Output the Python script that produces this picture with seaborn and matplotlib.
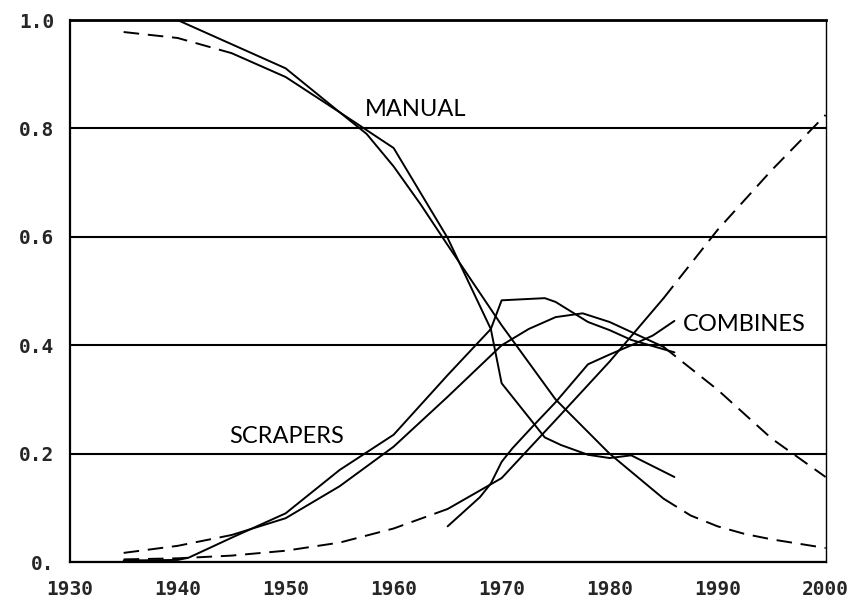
import numpy as np
import pandas as pd
import matplotlib
matplotlib.use("Agg")
import matplotlib.pyplot as plt
import seaborn as sns

# ===================== DATA =====================
# observed market shares (solid, jagged lines)
manual_years = [1935, 1940, 1950, 1955, 1960, 1965, 1969, 1970, 1974, 1975.5, 1978, 1980, 1982, 1986]
manual_share = [1.0, 1.0, 0.911, 0.83, 0.764, 0.598, 0.43, 0.33, 0.23, 0.216, 0.198, 0.192, 0.197, 0.157]

scrapers_years = [1935, 1940, 1941, 1945, 1950, 1955, 1960, 1965, 1969, 1970, 1974, 1975, 1978, 1980, 1982, 1986]
scrapers_share = [0.003, 0.004, 0.008, 0.045, 0.09, 0.17, 0.235, 0.345, 0.43, 0.483, 0.487, 0.48, 0.443, 0.428, 0.41, 0.387]

combines_years = [1965, 1968, 1969, 1970, 1971, 1973, 1975, 1978, 1980, 1982, 1984, 1986]
combines_share = [0.066, 0.12, 0.145, 0.185, 0.21, 0.253, 0.295, 0.365, 0.383, 0.40, 0.418, 0.445]

# fitted substitution curves (dashed outside the fit period)
manual_fit_years = [1935, 1940, 1945, 1950, 1955, 1957.5, 1960, 1962.5, 1965, 1970, 1975, 1980, 1985,
                    1987.5, 1990, 1992.5, 1995, 2000]
manual_fit = [0.978, 0.967, 0.939, 0.895, 0.83, 0.79, 0.73, 0.66, 0.585, 0.437, 0.30, 0.20, 0.117,
              0.086, 0.066, 0.052, 0.042, 0.026]

scrapers_fit_years = [1935, 1940, 1945, 1950, 1955, 1960, 1965, 1970, 1972.5, 1975, 1977.5, 1980, 1982.5, 1985,
                      1990, 1995, 2000]
scrapers_fit = [0.017, 0.03, 0.05, 0.081, 0.14, 0.213, 0.305, 0.40, 0.43, 0.452, 0.459, 0.443, 0.42, 0.397,
                0.318, 0.228, 0.157]

combines_fit_years = [1935, 1940, 1945, 1950, 1955, 1960, 1965, 1970, 1975, 1980, 1985, 1990, 1995, 2000]
combines_fit = [0.005, 0.007, 0.012, 0.021, 0.036, 0.062, 0.098, 0.155, 0.262, 0.37, 0.487, 0.613, 0.723, 0.825]

fit_period = {"MANUAL": (1945, 1985), "SCRAPERS": (1945, 1985), "COMBINES": (1965, 1985)}

x_ticks = [1930, 1940, 1950, 1960, 1970, 1980, 1990, 2000]
y_ticks = [0.0, 0.2, 0.4, 0.6, 0.8, 1.0]
y_labels = ["0.", "0.2", "0.4", "0.6", "0.8", "1.0"]

# ===================== PLOT =====================
sns.set_style("white")
plt.rcParams["font.family"] = ["DejaVu Sans"]

fig, ax = plt.subplots(figsize=(8.6, 6.09), dpi=100)
fig.subplots_adjust(left=0.081, right=0.960, top=0.967, bottom=0.077)

LW = 1.4
DASH = (0, (8, 4.5))

observed = {
    "MANUAL": (manual_years, manual_share),
    "SCRAPERS": (scrapers_years, scrapers_share),
    "COMBINES": (combines_years, combines_share),
}
fitted = {
    "MANUAL": (manual_fit_years, manual_fit),
    "SCRAPERS": (scrapers_fit_years, scrapers_fit),
    "COMBINES": (combines_fit_years, combines_fit),
}

for name, (yrs, vals) in observed.items():
    sns.lineplot(x=yrs, y=vals, color="black", lw=LW, ax=ax, sort=False)

for name, (yrs, vals) in fitted.items():
    df = pd.DataFrame({"year": yrs, "share": vals})
    start, end = fit_period[name]
    before = df[df.year <= start]
    during = df[(df.year >= start) & (df.year <= end)]
    after = df[df.year >= end]
    sns.lineplot(data=before, x="year", y="share", color="black", lw=LW, linestyle=DASH, ax=ax)
    sns.lineplot(data=during, x="year", y="share", color="black", lw=LW, ax=ax)
    sns.lineplot(data=after, x="year", y="share", color="black", lw=LW, linestyle=DASH, ax=ax)

# curve labels
label_kw = dict(fontsize=17, fontfamily="Lato", fontweight="normal", va="center", ha="left", color="black")
ax.text(1957.3, 0.835, "MANUAL", **label_kw)
ax.text(1944.8, 0.232, "SCRAPERS", **label_kw)
ax.text(1986.8, 0.439, "COMBINES", **label_kw)

# axes / grid
ax.set_xlim(1930, 2000)
ax.set_ylim(0, 1.0)
ax.set_xticks(x_ticks)
ax.set_xticklabels([str(t) for t in x_ticks])
ax.set_yticks(y_ticks)
ax.set_yticklabels(y_labels)
ax.set_yticks(np.arange(0.1, 1.0, 0.2), minor=True)
ax.set_xlabel("")
ax.set_ylabel("")

ax.yaxis.grid(True, which="major", color="black", lw=1.5)
ax.xaxis.grid(False)
ax.set_axisbelow(True)

for lab in ax.get_xticklabels() + ax.get_yticklabels():
    lab.set_fontfamily("DejaVu Sans Mono")
    lab.set_fontweight("bold")
    lab.set_fontsize(14)

ax.tick_params(axis="both", which="major", direction="inout", length=10, width=1.5, color="black", pad=6)
ax.tick_params(axis="y", which="minor", direction="inout", length=12, width=1.5, color="black")
ax.tick_params(axis="x", which="major", pad=8)

for side in ["left", "bottom"]:
    ax.spines[side].set_color("black")
    ax.spines[side].set_linewidth(1.6)
ax.spines["top"].set_color("black")
ax.spines["top"].set_linewidth(2.0)
ax.spines["right"].set_color("black")
ax.spines["right"].set_linewidth(1.0)

plt.savefig("out.png", dpi=100)
plt.close()
